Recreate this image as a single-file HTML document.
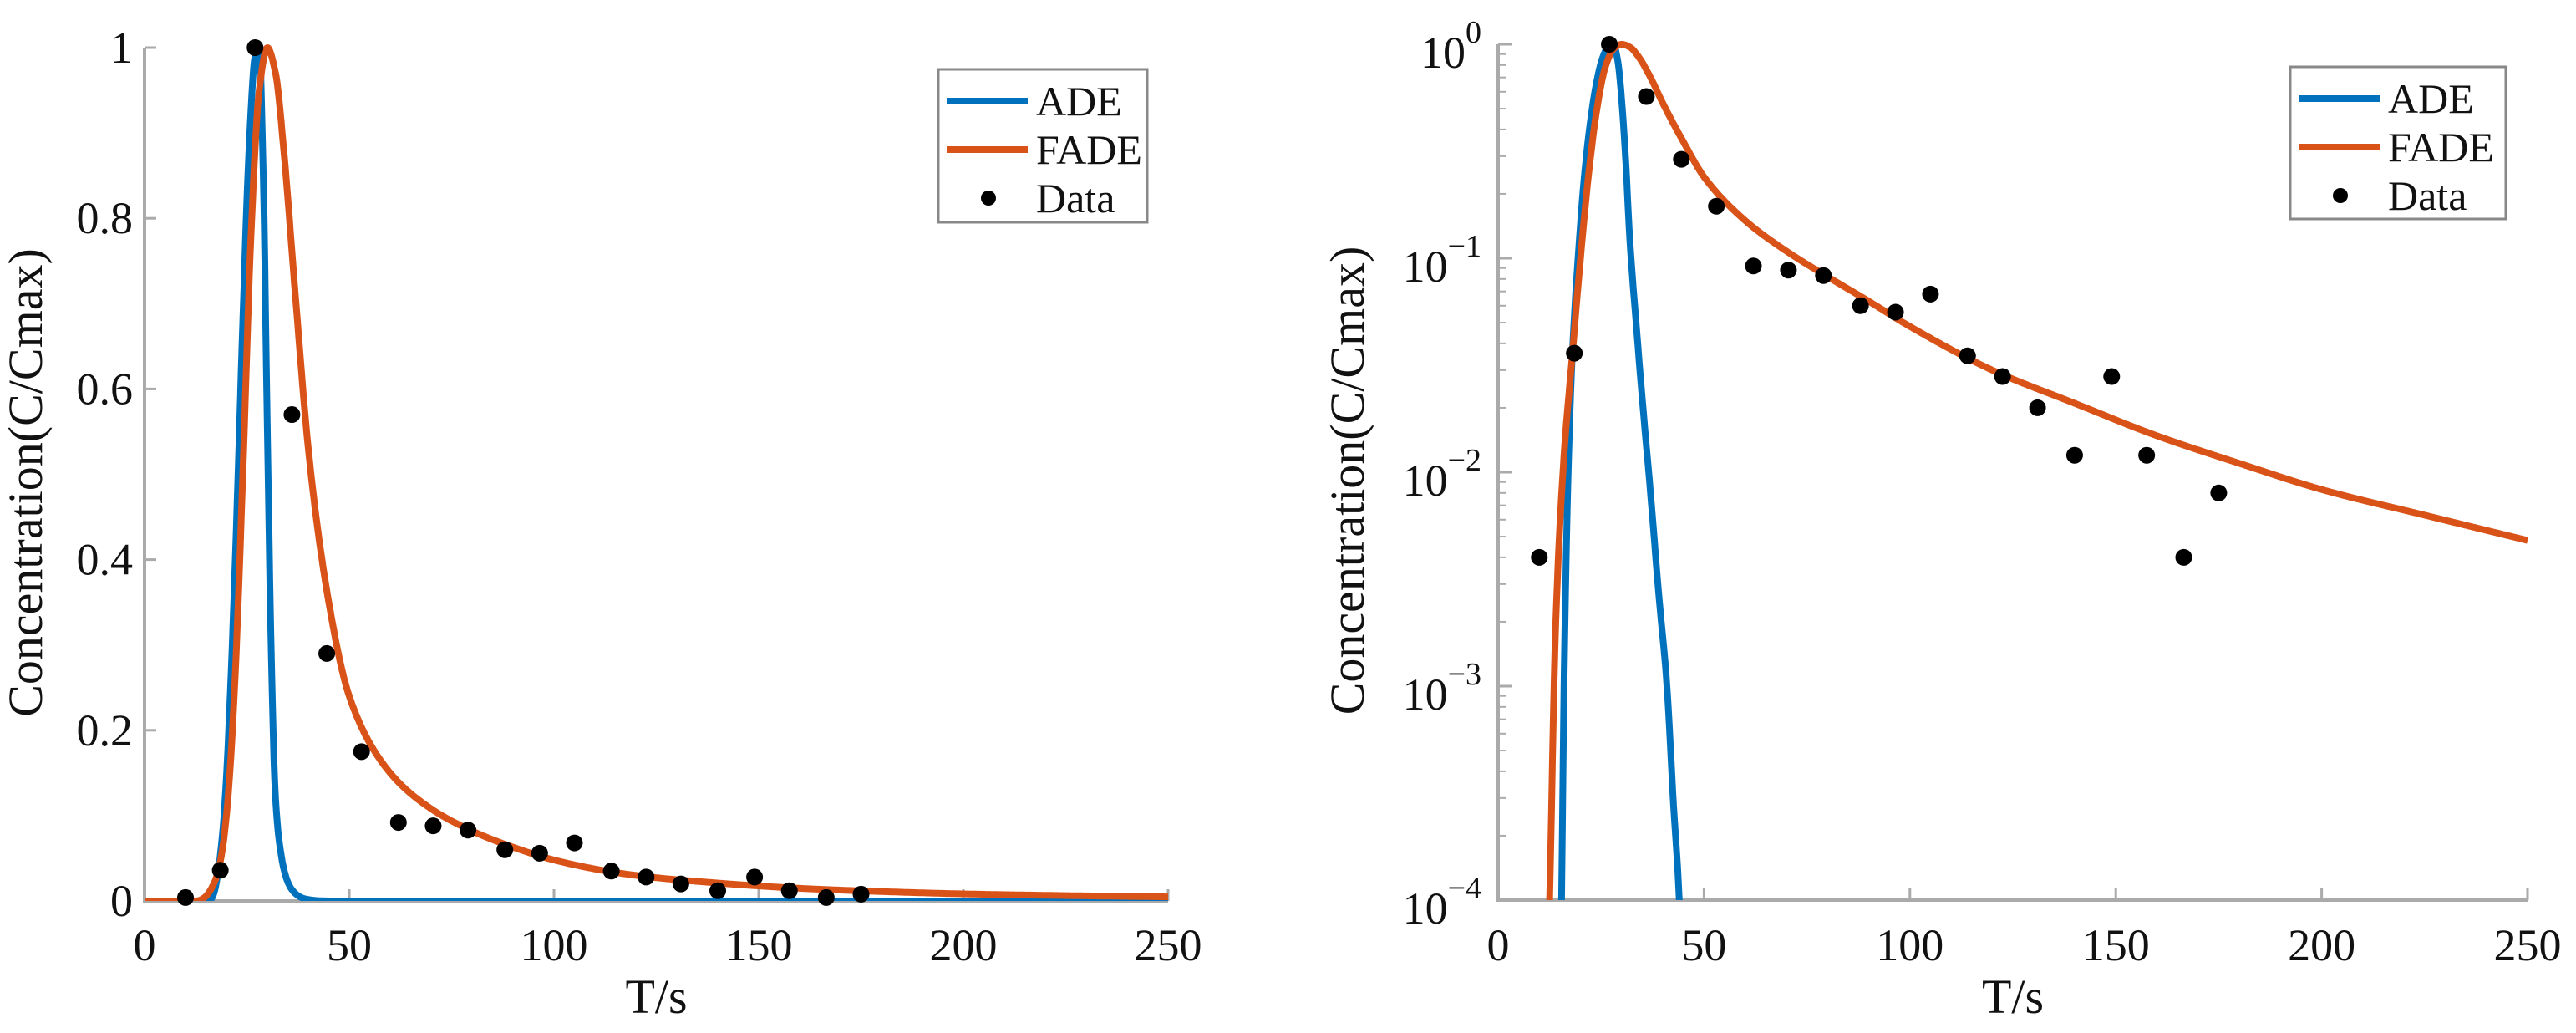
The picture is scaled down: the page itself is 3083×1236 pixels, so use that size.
<!DOCTYPE html>
<html><head><meta charset="utf-8"><style>
html,body{margin:0;padding:0;background:#fff;width:3083px;height:1236px;overflow:hidden;}
svg{display:block;}
text{font-family:"Liberation Serif",serif;fill:#111;}
</style></head><body>
<svg id="chart" width="3083" height="1236" viewBox="0 0 3083 1236" xmlns="http://www.w3.org/2000/svg"></svg>
<script>
// ---- data ----
const dataT = [10,18.5,27,36,44.5,53,62,70.5,79,88,96.5,105,114,122.5,131,140,149,157.5,166.5,175];
const dataC = [0.004,0.036,1.0,0.57,0.29,0.175,0.092,0.088,0.083,0.06,0.056,0.068,0.035,0.028,0.02,0.012,0.028,0.012,0.004,0.008];
const adeT = [0,10,14,15.4,16,17,18,19.4,21,22.5,24,25.5,27,28,29,30,31,32,33.5,35,37,39,41,42.5,44,47,60,250];
const adeC = [1e-12,1e-8,1e-6,1e-4,1e-3,1e-2,0.035,0.1,0.25,0.45,0.68,0.88,0.99,1.0,0.85,0.55,0.28,0.12,0.05,0.022,0.008,0.0027,0.001,0.0003,0.0001,1e-6,1e-9,1e-12];
const fadeT = [0,10,12.5,14,16,18,20,22,24,26,28,30,32,34,37,40,45,50,60,70,80,90,100,120,140,160,180,200,225,250];
const fadeC = [1e-7,1e-6,1e-4,2e-3,0.012,0.035,0.1,0.25,0.5,0.78,0.95,1.0,0.97,0.88,0.7,0.53,0.35,0.24,0.15,0.108,0.082,0.063,0.048,0.030,0.021,0.0148,0.011,0.0083,0.0063,0.0048];
const xTicks = [0,50,100,150,200,250];
const linTicks = [0,0.2,0.4,0.6,0.8,1];
const linTickLabels = ["0","0.2","0.4","0.6","0.8","1"];
const logExps = [0,-1,-2,-3,-4];

const NS="http://www.w3.org/2000/svg";
const svg=document.getElementById('chart');
function el(tag,attrs,parent){const e=document.createElementNS(NS,tag);for(const k in attrs)e.setAttribute(k,attrs[k]);(parent||svg).appendChild(e);return e;}

function makeInterp(ts,cs){
  const n=ts.length, y=cs.map(Math.log), h=[], d=[], m=new Array(n);
  for(let i=0;i<n-1;i++){h[i]=ts[i+1]-ts[i];d[i]=(y[i+1]-y[i])/h[i];}
  m[0]=d[0];m[n-1]=d[n-2];
  for(let i=1;i<n-1;i++){
    if(d[i-1]*d[i]<=0)m[i]=0;
    else{const w1=2*h[i]+h[i-1],w2=h[i]+2*h[i-1];m[i]=(w1+w2)/(w1/d[i-1]+w2/d[i]);}
  }
  return function(t){
    if(t<=ts[0])return cs[0];
    if(t>=ts[n-1])return cs[n-1];
    let i=0;while(t>ts[i+1])i++;
    const s=(t-ts[i])/h[i],s2=s*s,s3=s2*s;
    const v=(2*s3-3*s2+1)*y[i]+(s3-2*s2+s)*h[i]*m[i]+(-2*s3+3*s2)*y[i+1]+(s3-s2)*h[i]*m[i+1];
    return Math.exp(v);
  };
}

function drawPanel(cfg){
  const g=el('g',{});
  
  
  const {x0,x1,yTop,yBot,log}=cfg;
  const sx=t=>x0+(t/250)*(x1-x0);
  const sy=log? (c=>yTop+(-Math.log10(c))/4*(yBot-yTop)) : (c=>yBot-c*(yBot-yTop));
  const clip='clip-'+cfg.name;
  const defs=el('defs',{},g);
  const cp=el('clipPath',{id:clip},defs);
  el('rect',{x:x0,y:yTop-20,width:x1-x0+10,height:yBot-yTop+20},cp);
  const ax=el('path',{d:`M${x0},${yTop} L${x0},${yBot} L${x1},${yBot}`,stroke:'#aaa','stroke-width':4,fill:'none'},g);
  
  xTicks.forEach(v=>{
    const x=sx(v);
    el('line',{x1:x,x2:x,y1:yBot,y2:yBot-14,stroke:'#aaa','stroke-width':3},g);
    const t=el('text',{x:x,y:1149,'font-size':54,'text-anchor':'middle'},g);t.textContent=v;
    
  });
  if(!log){
    linTicks.forEach((v,i)=>{
      const y=sy(v);
      el('line',{x1:x0,x2:x0+14,y1:y,y2:y,stroke:'#aaa','stroke-width':3},g);
      const t=el('text',{x:x0-14,y:y+18,'font-size':54,'text-anchor':'end'},g);t.textContent=linTickLabels[i];
      
    });
  } else {
    logExps.forEach(e=>{
      const y=sy(Math.pow(10,e));
      el('line',{x1:x0,x2:x0+16,y1:y,y2:y,stroke:'#aaa','stroke-width':3},g);
      if(e>-4){for(let m=2;m<=9;m++){const ym=sy(m*Math.pow(10,e-1));el('line',{x1:x0,x2:x0+9,y1:ym,y2:ym,stroke:'#aaa','stroke-width':2},g);}}
      const t=el('text',{x:x0-20,y:y+28,'font-size':54,'text-anchor':'end'},g);
      
      const a=el('tspan',{},t);a.textContent='10';
      const b=el('tspan',{dy:-30,'font-size':38},t);b.textContent=(e<0?'\u2212'+(-e):''+e);
    });
  }
  const cg=el('g',{'clip-path':`url(#${clip})`},g);
  function curve(ts,cs,color,name){
    const f=makeInterp(ts,cs);
    let d='';
    for(let t=0;t<=250;t+=0.2){
      let c=f(t);
      if(log)c=Math.max(c,1e-5);
      d+=(d?'L':'M')+sx(t).toFixed(1)+','+sy(c).toFixed(1);
    }
    const p=el('path',{d:d,stroke:color,'stroke-width':8,fill:'none','stroke-linejoin':'round'},cg);
    
  }
  curve(adeT,adeC,'#0072BD','ade-curve');
  curve(fadeT,fadeC,'#D95319','fade-curve');
  dataT.forEach((t,i)=>{
    const c=el('circle',{cx:sx(t),cy:sy(dataC[i]),r:10,fill:'#000'},g);
    
  });
  const xl=el('text',{x:(x0+x1)/2,y:1212,'font-size':58,'text-anchor':'middle'},g);xl.textContent='T/s';
  
  const yl=el('text',{x:0,y:0,'font-size':58,'text-anchor':'middle',transform:`translate(${cfg.ylx},${(yTop+yBot)/2+10}) rotate(-90)`},g);yl.textContent='Concentration(C/Cmax)';
  
  const L=cfg.leg;
  const lg=el('g',{},g);
  
  el('rect',{x:L.x,y:L.y,width:L.w,height:L.h,fill:'#fff',stroke:'#888','stroke-width':3},lg);
  const rows=[['ADE','#0072BD','line'],['FADE','#D95319','line'],['Data','#000','dot']];
  rows.forEach((r,i)=>{
    const y=L.y+38+i*58;
    const e=el('g',{},lg);
    
    if(r[2]==='line')el('line',{x1:L.x+10,x2:L.x+107,y1:y,y2:y,stroke:r[1],'stroke-width':8},e);
    else el('circle',{cx:L.x+60,cy:y,r:9,fill:'#000'},e);
    const t=el('text',{x:L.x+117,y:y+17,'font-size':50},e);t.textContent=r[0];
  });
}
drawPanel({name:'linear-panel',x0:173,x1:1398,yTop:57,yBot:1078,log:false,ylx:50,leg:{x:1123,y:83,w:250,h:183}});
drawPanel({name:'log-panel',x0:1793,x1:3025,yTop:53,yBot:1077,log:true,ylx:1632,leg:{x:2741,y:80,w:258,h:182}});
</script>
</body></html>
